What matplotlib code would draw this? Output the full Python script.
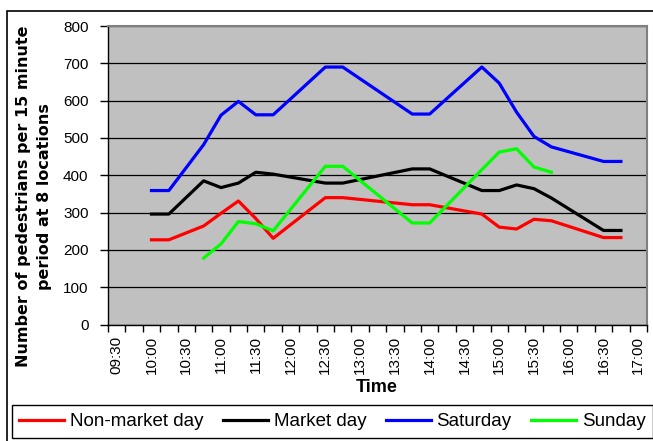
import matplotlib
matplotlib.use("Agg")
import matplotlib.pyplot as plt
from matplotlib.patches import Rectangle

plt.rcParams["font.family"] = ["Liberation Sans", "DejaVu Sans"]

# category axis: quarter hours 09:30 .. 17:00, labelled every half hour
time_labels = ["09:30", "10:00", "10:30", "11:00", "11:30", "12:00", "12:30", "13:00",
               "13:30", "14:00", "14:30", "15:00", "15:30", "16:00", "16:30", "17:00"]

# survey counts (times with no count are simply joined by the line)
survey_times = ["10:00", "10:15", "10:45", "11:00", "11:15", "11:30", "11:45", "12:30",
                "12:45", "13:45", "14:00", "14:45", "15:00", "15:15", "15:30", "15:45",
                "16:30", "16:45"]
non_market = [227, 227, 264, 298, 331, 284, 231, 340, 340, 321, 321, 296, 261, 256, 282, 278, 233, 233]
market = [296, 296, 385, 367, 379, 408, 403, 379, 379, 417, 417, 359, 359, 374, 364, 339, 252, 252]
saturday = [359, 359, 482, 561, 598, 562, 562, 690, 690, 564, 564, 690, 647, 569, 504, 476, 437, 437]

sunday_times = ["10:45", "11:00", "11:15", "11:30", "11:45", "12:30", "12:45", "13:45",
                "14:00", "14:45", "15:00", "15:15", "15:30", "15:45"]
sunday = [178, 216, 276, 270, 251, 424, 424, 272, 272, 415, 462, 471, 422, 408]

series = [
    ("Non-market day", survey_times, non_market, "#FF0000"),
    ("Market day", survey_times, market, "#000000"),
    ("Saturday", survey_times, saturday, "#0000FF"),
    ("Sunday", sunday_times, sunday, "#00FF00"),
]


def slot(t):
    # index of a quarter-hour category, 09:30 -> 0
    h, m = t.split(":")
    return (int(h) * 60 + int(m) - 9 * 60 - 30) / 15


W, H = 653, 441
fig = plt.figure(figsize=(W / 100, H / 100), dpi=100)

# chart area border (cropped on the right and bottom)
fig.patches.append(Rectangle((7 / W, -0.5), 2, 0.5 + (H - 11) / H, transform=fig.transFigure,
                             fill=False, edgecolor="black", linewidth=1.2))

ax = fig.add_axes([108 / W, (H - 324.5) / H, (647 - 108) / W, (324.5 - 26) / H])
ax.set_facecolor("#C0C0C0")

handles = []
for name, times, vals, col in series:
    ln, = ax.plot([slot(t) for t in times], vals, color=col, linewidth=2.3, label=name)
    handles.append(ln)

ax.set_xlim(-0.5, 30.5)
ax.set_ylim(0, 800)
ax.set_yticks(range(0, 801, 100))
ax.yaxis.grid(True, color="black", linewidth=0.9)
ax.set_axisbelow(True)

ax.set_xticks([slot(t) for t in time_labels])
ax.set_xticklabels(time_labels, rotation=90, fontsize=11)
ax.set_xticks([i - 0.5 for i in range(32)], minor=True)
ax.tick_params(axis="x", which="major", length=0, pad=8)
ax.tick_params(axis="x", which="minor", length=5, width=1, direction="out")
ax.tick_params(axis="y", length=6, width=1, direction="out", labelsize=11, pad=8)

for side in ["top", "right"]:
    ax.spines[side].set_color("#808080")
    ax.spines[side].set_linewidth(1.5)
for side in ["left", "bottom"]:
    ax.spines[side].set_color("black")
    ax.spines[side].set_linewidth(1)

fig.text(34 / W, 1 - 196.5 / H, "Number of pedestrians per 15 minute\nperiod at 8 locations",
         rotation=90, ha="center", va="center", multialignment="center",
         fontsize=11.5, fontweight="bold", family="DejaVu Sans", linespacing=1.55)
fig.text(377 / W, 1 - 387 / H, "Time", ha="center", va="center", fontsize=13, fontweight="bold")

leg = fig.legend(handles=handles, loc="center", bbox_to_anchor=(332.5 / W, 1 - 421.5 / H),
                 ncol=4, fontsize=13.5, frameon=True, fancybox=False, framealpha=1,
                 edgecolor="black", handlelength=2.4, handletextpad=0.3, columnspacing=1.05,
                 borderpad=0.4, borderaxespad=0)
leg.get_frame().set_linewidth(1)
for l in leg.get_lines():
    l.set_linewidth(2.3)

fig.savefig("out.png", dpi=100)
